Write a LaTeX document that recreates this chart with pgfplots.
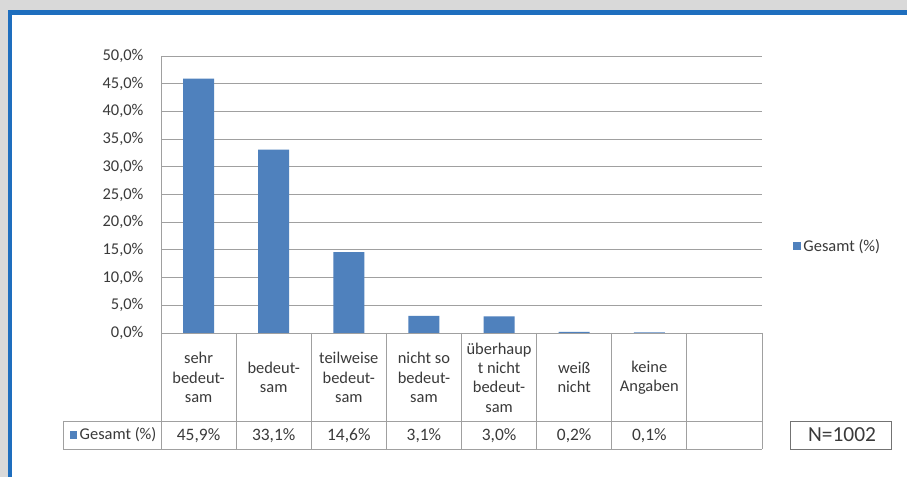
\documentclass[border=0pt]{standalone}
\usepackage{pgfplots}
\pgfplotsset{compat=1.18}
\usepackage{fontspec}
\setmainfont{Carlito}
\definecolor{bgray}{HTML}{D9D9D9}
\definecolor{frameblue}{RGB}{30,110,190}
\definecolor{barblue}{HTML}{4F81BD}
\definecolor{gridc}{HTML}{A0A0A0}
\definecolor{txt}{HTML}{3A3A3A}
\begin{document}
\begin{tikzpicture}[x=1bp,y=1bp]
\fill[bgray] (0,0) rectangle (907,477);
\fill[frameblue] (8,0) rectangle (907,467);
\fill[white] (12,0) rectangle (907,462);
\begin{axis}[
  at={(161bp,144bp)}, anchor=south west,
  scale only axis, width=601bp, height=277bp,
  xmin=-0.5, xmax=7.5, ymin=0, ymax=50,
  axis x line=bottom, axis y line=left,
  axis line style={draw=gridc, line width=0.8bp, -},
  major tick length=0pt,
  ytick={0,5,...,50},
  ymajorgrids, grid style={draw=gridc, line width=0.8bp},
  /pgf/number format/.cd, fixed, fixed zerofill, precision=1, use comma, assume math mode=true,
  /pgfplots/.cd,
  yticklabel={\pgfmathprintnumber{\tick}\%},
  yticklabel style={font=\fontsize{16.5}{18}\selectfont, text=txt, anchor=east, xshift=-14bp},
  xtick={0,...,6},
  xticklabels={{sehr\\bedeut-\\sam},{bedeut-\\sam},{teilweise\\bedeut-\\sam},{nicht so\\bedeut-\\sam},{überhaup\\t nicht\\bedeut-\\sam},{weiß\\nicht},{keine\\Angaben}},
  xticklabel style={font=\fontsize{16.5}{19.5}\selectfont, text=txt, align=center, anchor=center, yshift=-44.5bp},
  clip=false,
  legend style={at={(1.052,0.314)}, anchor=west, draw=none, fill=none, inner sep=0pt,
    font=\fontsize{16.5}{19}\selectfont, text=txt},
  legend cell align=left,
  legend image code/.code={\fill[barblue] (0bp,-4bp) rectangle (8bp,4bp);},
]
\addplot[ybar, bar width=31bp, bar shift=0pt, fill=barblue, draw=none]
  coordinates {(0,45.9) (1,33.1) (2,14.6) (3,3.1) (4,3.0) (5,0.2) (6,0.1)};
\addlegendentry{Gesamt (\%)}
\end{axis}
% table
\foreach \k in {0,...,8} {
  \draw[gridc, line width=0.8] ({161+75.125*\k},144) -- ({161+75.125*\k},28);
}
\draw[gridc, line width=0.8] (63,56) -- (762,56);
\draw[gridc, line width=0.8] (63,28) -- (762,28);
\draw[gridc, line width=0.8] (63,56) -- (63,28);
\foreach \v [count=\i from 0] in {{45,9\%},{33,1\%},{14,6\%},{3,1\%},{3,0\%},{0,2\%},{0,1\%}} {
  \node[font=\fontsize{17.5}{20}\selectfont, text=txt] at ({161+75.125*(\i+0.5)},41.5) {\v};
}
\fill[barblue] (70,38) rectangle (77,46);
\node[anchor=west, font=\fontsize{16.5}{19}\selectfont, text=txt, inner sep=0pt] at (79.5,42) {Gesamt (\%)};
\draw[black!55, line width=0.8] (790,28) rectangle (891,56);
\node[font=\fontsize{21.5}{24}\selectfont, text=txt] at (842,42) {N=1002};
\end{tikzpicture}
\end{document}
